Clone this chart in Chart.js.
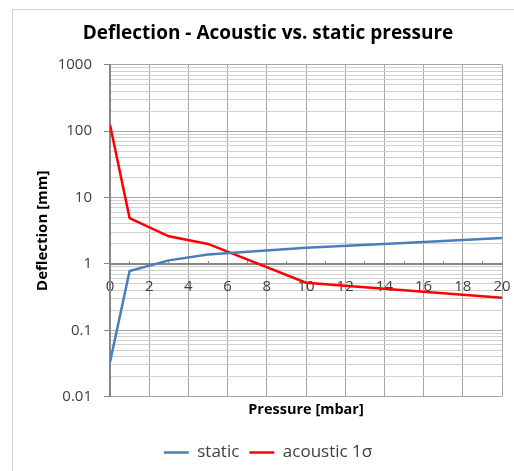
<!DOCTYPE html>
<html><head><meta charset="utf-8">
<script src="https://cdn.jsdelivr.net/npm/chart.js@4"></script>
<style>
html,body{margin:0;padding:0;background:#fff;overflow:hidden}
#wrap{position:absolute;left:0;top:0;width:514px;height:471px;overflow:hidden}
#frame{position:absolute;left:12px;top:9px;width:600px;height:600px;border:1px solid #d0d0d0;box-sizing:border-box}
canvas{position:absolute;left:0;top:0}
</style></head><body>
<div id="wrap"><div id="frame"></div><canvas id="c" width="514" height="471"></canvas></div>
<script>
// ---- data ----
const staticPressure = [0, 1, 3, 5, 10, 15, 20];
const staticDeflection = [0.033, 0.78, 1.13, 1.38, 1.75, 2.07, 2.45];
const acousticPressure = [0, 1, 3, 5, 10, 20];
const acousticDeflection = [125, 4.9, 2.6, 2.0, 0.52, 0.31];
const xTickValues = [0,1,2,3,4,5,6,7,8,9,10,11,12,13,14,15,16,17,18,19,20];
const xTickLabels = ['0','','2','','4','','6','','8','','10','','12','','14','','16','','18','','20'];
const yDecades = [0.01, 0.1, 1, 10, 100, 1000];
const yDecadeLabels = ['0.01', '0.1', '1', '10', '100', '1000'];
const yMinorSteps = [2, 3, 4, 5, 6, 7, 8, 9];
const seriesNames = ['static', 'acoustic 1σ'];
const titleText = 'Deflection - Acoustic vs. static pressure';
const xTitle = 'Pressure [mbar]';
const yTitle = 'Deflection [mm]';

Chart.defaults.font.family = "'Open Sans', sans-serif";
Chart.defaults.color = '#404040';

const toPts = (xs, ys) => xs.map((x, i) => ({x, y: ys[i]}));
const noSidePad = s => { s.paddingLeft = 0; s.paddingRight = 0; };

new Chart(document.getElementById('c'), {
  type: 'line',
  data: {
    datasets: [
      {label: seriesNames[0], data: toPts(staticPressure, staticDeflection),
       borderColor: '#4a7ebb', backgroundColor: '#4a7ebb', borderWidth: 2.5,
       pointRadius: 0, tension: 0},
      {label: seriesNames[1], data: toPts(acousticPressure, acousticDeflection),
       borderColor: '#ff0000', backgroundColor: '#ff0000', borderWidth: 2.5,
       pointRadius: 0, tension: 0}
    ]
  },
  options: {
    responsive: false,
    animation: false,
    devicePixelRatio: 1,
    layout: {padding: {left: 34, right: 12, top: 0, bottom: 0}},
    plugins: {
      title: {display: true, text: titleText, color: '#000',
        font: {size: 19, weight: 'bold'}, padding: {top: 22, bottom: 20}},
      legend: {position: 'bottom',
        labels: {usePointStyle: true, pointStyle: 'line', pointStyleWidth: 25,
          font: {size: 17}, color: '#404040', padding: 10}},
      tooltip: {enabled: false}
    },
    scales: {
      x: {
        type: 'linear', position: {y: 1}, min: 0, max: 20,
        afterBuildTicks: s => { s.ticks = xTickValues.map(v => ({value: v})); },
        afterFit: noSidePad,
        ticks: {autoSkip: false, maxRotation: 0, padding: 18, font: {size: 15}, color: '#404040',
          callback: (v, i) => xTickLabels[i]},
        grid: {
          color: c => (c.tick && xTickLabels[c.index] !== '') ? '#a6a6a6' : 'rgba(0,0,0,0)',
          tickColor: '#868686', tickLength: -4, lineWidth: 1
        },
        border: {color: '#868686', width: 2}
      },
      x2: {
        type: 'linear', position: 'bottom', min: 0, max: 20,
        afterFit: noSidePad,
        ticks: {display: false},
        grid: {display: false, drawTicks: false},
        border: {display: false},
        title: {display: true, text: xTitle, color: '#000',
          font: {size: 14.5, weight: 'bold'}, padding: {top: 5, bottom: 15}}
      },
      y: {
        type: 'logarithmic', min: 0.01, max: 1000,
        afterBuildTicks: s => {
          const t = [];
          yDecades.forEach((d, i) => {
            t.push({value: d, major: true});
            if (i < yDecades.length - 1) yMinorSteps.forEach(m => t.push({value: +(d * m).toPrecision(3), major: false}));
          });
          s.ticks = t;
        },
        afterFit: s => { s.width = 76; },
        ticks: {autoSkip: false, padding: 12, font: {size: 15}, color: '#404040',
          callback: (v, i, ticks) => { const k = yDecades.indexOf(ticks[i].value); return k >= 0 ? yDecadeLabels[k] : ''; }},
        grid: {
          color: c => (c.tick && c.tick.major) ? '#a6a6a6' : '#d0d0d0',
          tickColor: c => (c.tick && c.tick.major) ? '#868686' : 'rgba(0,0,0,0)',
          tickLength: 6, lineWidth: 1
        },
        border: {color: '#868686', width: 2},
        title: {display: true, text: yTitle, color: '#000',
          font: {size: 15, weight: 'bold'}, padding: {top: 0, bottom: 0}}
      }
    }
  }
});
</script>
</body></html>
